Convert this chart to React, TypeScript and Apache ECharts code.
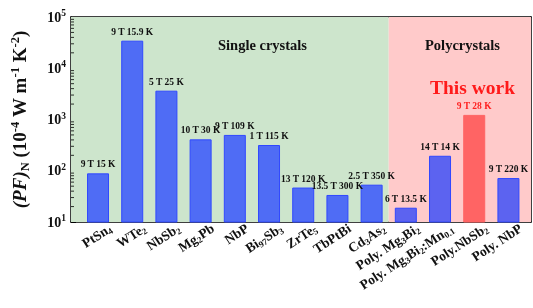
import React, { useEffect, useRef } from 'react';
import * as echarts from 'echarts';

const categories = [
  'PtSn{s|4}',
  'WTe{s|2}',
  'NbSb{s|2}',
  'Mg{s|2}Pb',
  'NbP',
  'Bi{s|97}Sb{s|3}',
  'ZrTe{s|5}',
  'TbPtBi',
  'Cd{s|3}As{s|2}',
  'Poly. Mg{s|3}Bi{s|2}',
  'Poly. Mg{s|3}Bi{s|2}:Mn{s|0.1}',
  'Poly.NbSb{s|2}',
  'Poly. NbP',
];
const values = [89, 34500, 3650, 410, 500, 318, 47, 33.7, 53.5, 19, 196, 1230, 72];
const fields = ['9 T', '9 T', '5 T', '10 T', '9 T', '1 T', '13 T', '13.5 T', '2.5 T', '6 T', '14 T', '9 T', '9 T'];
const temps = ['15 K', '15.9 K', '25 K', '30 K', '109 K', '115 K', '120 K', '300 K', '350 K', '13.5 K', '14 K', '28 K', '220 K'];
const groups = ['single', 'single', 'single', 'single', 'single', 'single', 'single', 'single', 'single', 'poly', 'poly', 'poly', 'poly'];
const thisWork = [false, false, false, false, false, false, false, false, false, false, false, true, false];
const decades = [10, 100, 1000, 10000];
const minorMultipliers = [2, 3, 4, 5, 6, 7, 8, 9];

const FONT = '"Liberation Serif", "Times New Roman", serif';

export default function App() {
  const ref = useRef<HTMLDivElement>(null);
  useEffect(() => {
    const chart = echarts.init(ref.current!, null, { renderer: 'svg' });
    const xMin = -0.79;
    const xMax = 12.66;
    const split = groups.filter((g) => g === 'single').length - 0.5;
    const labelShift = 0.36;
    const minorValues: number[][] = [];
    decades.forEach((d) => minorMultipliers.forEach((m) => minorValues.push([xMin, d * m])));
    const data = values.map((v, i) => {
      const tw = thisWork[i];
      const poly = groups[i] === 'poly';
      return {
        value: [i, v],
        itemStyle: {
          color: tw ? '#ff6464' : poly ? '#5c63f0' : '#4f6cf5',
          borderColor: tw ? '#ff6464' : '#3048ff',
          borderWidth: 1,
        },
        label: {
          show: true,
          position: 'top',
          distance: 4,
          formatter: `${fields[i]} ${temps[i]}`,
          color: tw ? '#ff2020' : '#111',
          fontFamily: FONT,
          fontWeight: 'bold',
          fontSize: 9.5,
        },
      };
    });
    const option: any = {
      animation: false,
      grid: { left: 66, right: 2, top: 17, bottom: 86, containLabel: false },
      xAxis: [
        {
          type: 'value',
          min: xMin,
          max: xMax,
          splitLine: { show: false },
          axisLine: { show: true, onZero: false, lineStyle: { color: '#000', width: 1.5 } },
          axisTick: { show: false },
          axisLabel: {
            show: true,
            customValues: categories.map((_, i) => i + labelShift),
            rotate: 33,
            margin: 5,
            fontFamily: FONT,
            fontWeight: 'bold',
            fontSize: 13.5,
            color: '#111',
            formatter: (v: number) => {
              const i = Math.round(v - labelShift);
              return categories[i] ?? '';
            },
            rich: {
              s: { fontSize: 9, fontFamily: FONT, fontWeight: 'bold', verticalAlign: 'bottom', padding: [7, 0, 0, 0], color: '#111' },
            },
          },
        },
        {
          type: 'value',
          position: 'top',
          min: xMin,
          max: xMax,
          splitLine: { show: false },
          axisLine: { show: true, onZero: false, lineStyle: { color: '#000', width: 1.5 } },
          axisTick: { show: false },
          axisLabel: { show: false },
        },
      ],
      yAxis: [
        {
          type: 'log',
          logBase: 10,
          min: 10,
          max: 100000,
          splitLine: { show: false },
          axisLine: { show: true, onZero: false, lineStyle: { color: '#000', width: 1.5 } },
          axisTick: { show: true, inside: true, length: 5, lineStyle: { color: '#000', width: 1 } },
          minorTick: { show: false },
          axisLabel: {
            margin: 5,
            color: '#111',
            fontFamily: FONT,
            fontWeight: 'bold',
            fontSize: 14,
            formatter: (v: number) => `{b|10}{p|${Math.round(Math.log10(v))}}`,
            rich: {
              b: { fontFamily: FONT, fontWeight: 'bold', fontSize: 14, color: '#111' },
              p: { fontFamily: FONT, fontWeight: 'bold', fontSize: 9.5, verticalAlign: 'top', padding: [0, 0, 8, 0], color: '#111' },
            },
          },
          name: '{i|(PF)}{s|N}{n| (10}{p|-4}{n| W m}{p|-1}{n| K}{p|-2}{n|)}',
          nameLocation: 'middle',
          nameGap: 40,
          nameTextStyle: {
            rich: {
              i: { fontFamily: FONT, fontWeight: 'bold', fontStyle: 'italic', fontSize: 19, color: '#111' },
              n: { fontFamily: FONT, fontWeight: 'bold', fontSize: 19, color: '#111' },
              s: { fontFamily: FONT, fontWeight: 'bold', fontSize: 12.5, verticalAlign: 'bottom', padding: [9, 0, 0, 0], color: '#111' },
              p: { fontFamily: FONT, fontWeight: 'bold', fontSize: 12.5, verticalAlign: 'top', padding: [0, 0, 10, 0], color: '#111' },
            },
          },
        },
        {
          type: 'log',
          logBase: 10,
          min: 10,
          max: 100000,
          position: 'right',
          splitLine: { show: false },
          axisLine: { show: true, onZero: false, lineStyle: { color: '#000', width: 1.5 } },
          axisTick: { show: false },
          axisLabel: { show: false },
        },
      ],
      series: [
        {
          type: 'bar',
          xAxisIndex: 0,
          yAxisIndex: 0,
          barWidth: 22,
          data,
          z: 3,
          markArea: {
            silent: true,
            z: 1,
            data: [
              [{ xAxis: xMin, itemStyle: { color: '#cde5cc' } }, { xAxis: split }],
              [{ xAxis: split, itemStyle: { color: '#ffcaca' } }, { xAxis: xMax }],
            ],
          },
        },
        {
          type: 'custom',
          xAxisIndex: 0,
          yAxisIndex: 0,
          silent: true,
          z: 5,
          clip: false,
          data: minorValues,
          renderItem: (params: any, api: any) => {
            const p = api.coord([api.value(0), api.value(1)]);
            return {
              type: 'line',
              shape: { x1: p[0], y1: p[1], x2: p[0] + 3, y2: p[1] },
              style: { stroke: '#000', lineWidth: 0.8 },
            };
          },
        },
      ],
      graphic: [
        { type: 'text', z: 100, left: 218, top: 37, style: { text: 'Single crystals', fontFamily: FONT, fontWeight: 'bold', fontSize: 14.5, fill: '#111' } },
        { type: 'text', z: 100, left: 425, top: 37, style: { text: 'Polycrystals', fontFamily: FONT, fontWeight: 'bold', fontSize: 14.5, fill: '#111' } },
        { type: 'text', z: 100, left: 430, top: 77, style: { text: 'This work', fontFamily: FONT, fontWeight: 'bold', fontSize: 19.5, fill: '#ff1a1a' } },
      ],
    };
    chart.setOption(option);
    return () => chart.dispose();
  }, []);
  return <div ref={ref} style={{ position: 'fixed', left: 0, top: 0, width: 533, height: 308 }} />;
}
